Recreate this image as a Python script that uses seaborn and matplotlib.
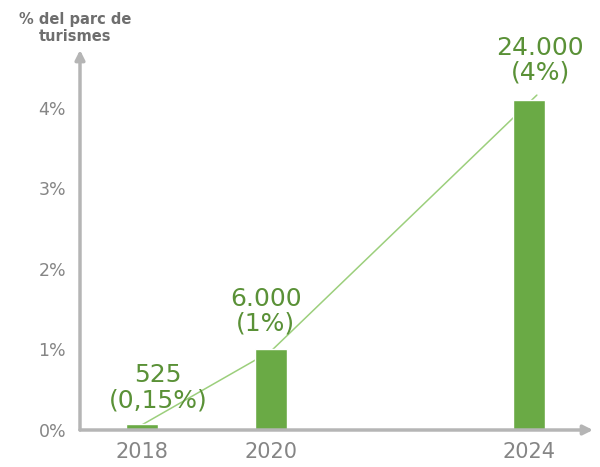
import matplotlib
matplotlib.use("Agg")
import matplotlib.pyplot as plt
import seaborn as sns
import pandas as pd

# data
years = [2018, 2020, 2024]
bar_pct = [0.08, 1.0, 4.1]          # visual bar heights (%)
labels = ["525\n(0,15%)", "6.000\n(1%)", "24.000\n(4%)"]
line_years = [2017.97, 2020, 2024.12]
line_pct = [0.05, 0.98, 4.16]
yticks = [0, 1, 2, 3, 4]
ytick_labels = ["0%", "1%", "2%", "3%", "4%"]
title = "% del parc de\nturismes"

green = "#6aaa45"
text_green = "#5a9137"
grey = "#b5b5b5"
tgrey = "#858585"

sns.set_theme(style="white")
plt.rcParams['font.family'] = ['DejaVu Sans']

fig = plt.figure(figsize=(6, 4.67), dpi=100)
ax = fig.add_axes([80/600, 37/467, 513/600, 380/467])

df = pd.DataFrame({"year": years, "pct": bar_pct})
sns.barplot(data=df, x="year", y="pct", native_scale=True, width=0.25,
            color=green, saturation=1, ax=ax, zorder=3)
ax.set_zorder(1)
ldf = pd.DataFrame({"year": line_years, "pct": line_pct})
sns.lineplot(data=ldf, x="year", y="pct", color="#9ccf7c", lw=1.1, ax=ax, zorder=2)

ax.set_xlim(2017.04, 2024.99)
ax.set_ylim(0, 4.72)
for s in ax.spines.values():
    s.set_visible(False)
ax.set_xlabel("")
ax.set_ylabel("")
ax.set_yticks(yticks)
ax.set_yticklabels(ytick_labels, color=tgrey, fontsize=12.5)
ax.set_xticks(years)
ax.set_xticklabels([str(y) for y in years], color=tgrey, fontsize=15)
ax.tick_params(length=0, pad=10)
ax.tick_params(axis="x", pad=9)

# axes with arrows
ax.annotate("", xy=(0, 1.0), xytext=(0, 0), xycoords="axes fraction",
            arrowprops=dict(arrowstyle="-|>", color=grey, lw=2.5,
                            mutation_scale=14, shrinkA=0, shrinkB=0))
ax.annotate("", xy=(1.0, 0), xytext=(0, 0), xycoords="axes fraction",
            arrowprops=dict(arrowstyle="-|>", color=grey, lw=2.5,
                            mutation_scale=14, shrinkA=0, shrinkB=0))

label_x = [2018.25, 2019.92, 2024.17]
label_y = [0.22, 1.17, 4.29]
for lx, ly, t in zip(label_x, label_y, labels):
    ax.text(lx, ly, t, ha="center", va="bottom", color=text_green,
            fontsize=18, linespacing=1.05, zorder=5)

fig.text(75/600, 1 - 28/467, title, ha="center", va="center", color="#6e6e6e",
         fontsize=10.5, fontweight="bold", linespacing=1.2)

fig.savefig("out.png", dpi=100)
